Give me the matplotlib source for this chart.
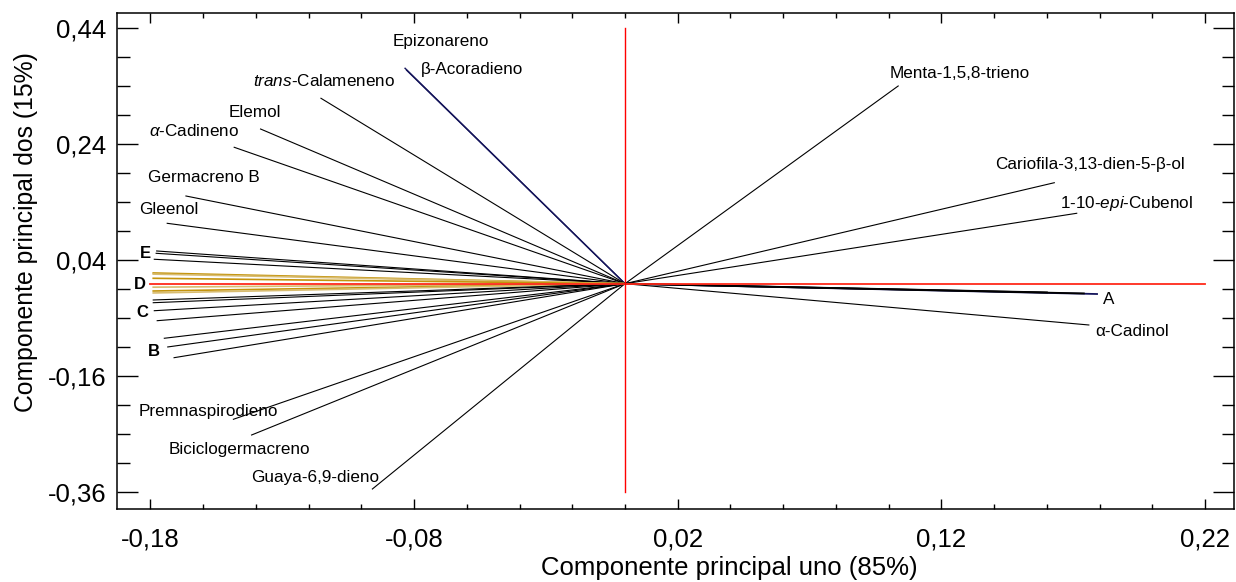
import matplotlib
matplotlib.use('Agg')
import numpy as np
import matplotlib.pyplot as plt
from matplotlib.ticker import FixedLocator, FixedFormatter

plt.rcParams['font.family'] = ['Liberation Sans', 'DejaVu Sans']
plt.rcParams['mathtext.fontset'] = 'custom'
plt.rcParams['mathtext.rm'] = 'Liberation Sans'
plt.rcParams['mathtext.it'] = 'Liberation Sans:italic'

# ---------------- data ----------------
# labelled compound vectors (loading on PC1, PC2)
compound_names = ['Epizonareno', 'β-Acoradieno', r'$\mathit{trans}$-Calameneno', 'Elemol',
                  r'$\mathit{α}$-Cadineno', 'Germacreno B', 'Gleenol',
                  'Menta-1,5,8-trieno', 'Cariofila-3,13-dien-5-β-ol', r'1-10-$\mathit{epi}$-Cubenol',
                  'α-Cadinol', 'Premnaspirodieno', 'Biciclogermacreno', 'Guaya-6,9-dieno']
compound_pc1 = [-0.0834, -0.0828, -0.1153, -0.1382, -0.1482, -0.1665, -0.1736,
                0.1036, 0.1628, 0.1713, 0.1759, -0.1485, -0.1416, -0.0958]
compound_pc2 = [0.3714, 0.3680, 0.3197, 0.2667, 0.2352, 0.1512, 0.1041,
                0.3409, 0.1741, 0.1214, -0.0712, -0.2338, -0.2609, -0.3540]
# label anchor positions (left edge, vertical centre) in data units
label_x = [-0.0880, -0.0774, -0.1411, -0.1503, -0.1805, -0.1809, -0.1841,
           0.1002, 0.1405, 0.1651, 0.1782, -0.1845, -0.1729, -0.1419]
label_y = [0.4172, 0.3697, 0.3500, 0.2948, 0.2638, 0.1828, 0.1283,
           0.3616, 0.2047, 0.1386, -0.0828, -0.2207, -0.2855, -0.3338]

# sample group vectors
group_A_pc1 = [0.1790, 0.1740, 0.1600]
group_A_pc2 = [-0.0178, -0.0168, -0.0150]
group_E_pc1 = [-0.1776, -0.1778, -0.1785]
group_E_pc2 = [0.0564, 0.0524, 0.0421]
group_D_pc1 = [-0.1789, -0.1789, -0.1789, -0.1789, -0.1789, -0.1789]
group_D_pc2 = [0.0185, 0.0165, 0.0093, -0.0060, -0.0126, -0.0160]
group_C_pc1 = [-0.1789, -0.1789, -0.1785, -0.1774]
group_C_pc2 = [-0.0281, -0.0328, -0.0466, -0.0638]
group_B_pc1 = [-0.1747, -0.1734, -0.1710]
group_B_pc2 = [-0.0941, -0.1091, -0.1276]

group_names = ['A', 'E', 'D', 'C', 'B']
group_label_x = [0.1813, -0.1818, -0.1841, -0.1830, -0.1786]
group_label_y = [-0.0281, 0.0529, -0.0022, -0.0505, -0.1169]

x_major = [-0.18, -0.08, 0.02, 0.12, 0.22]
x_major_labels = ['-0,18', '-0,08', '0,02', '0,12', '0,22']
y_major = [0.44, 0.24, 0.04, -0.16, -0.36]
y_major_labels = ['0,44', '0,24', '0,04', '-0,16', '-0,36']

# ---------------- figure ----------------
fig = plt.figure(figsize=(12.36, 5.82), dpi=100)
ax = fig.add_axes([116.5 / 1236, 1 - 509.3 / 582, (1234 - 116.5) / 1236, (509.3 - 13.3) / 582])
ax.set_xlim(-0.19283, 0.23094)
ax.set_ylim(-0.3890, 0.4662)

navy = '#14145a'
gold_dark = '#c4940c'
gold_light = '#d8bc70'

# compound vectors
for i, (x, y) in enumerate(zip(compound_pc1, compound_pc2)):
    col = navy if i < 2 else 'black'
    lw = 1.0 if i < 2 else 0.8
    ax.plot([0, x], [0, y], color=col, lw=lw, zorder=2)

for x, y in zip(group_E_pc1, group_E_pc2):
    ax.plot([0, x], [0, y], color='black', lw=0.8, zorder=2)
for j, (x, y) in enumerate(zip(group_D_pc1, group_D_pc2)):
    ax.plot([0, x], [0, y], color=gold_dark if j % 2 == 0 else gold_light, lw=1.2, zorder=2)
for x, y in zip(group_C_pc1, group_C_pc2):
    ax.plot([0, x], [0, y], color='black', lw=0.8, zorder=2)
for x, y in zip(group_B_pc1, group_B_pc2):
    ax.plot([0, x], [0, y], color='black', lw=0.8, zorder=2)
for j, (x, y) in enumerate(zip(group_A_pc1, group_A_pc2)):
    ax.plot([0, x], [0, y], color=navy if j == 0 else 'black', lw=1.3, zorder=2)

# red reference axes
ax.plot([-0.18, 0.22], [0, 0], color='#ff2a1a', lw=1.3, zorder=3)
ax.plot([0, 0], [-0.36, 0.44], color='#ff0000', lw=1.0, zorder=3)

# labels
for name, lx, ly in zip(compound_names, label_x, label_y):
    ax.text(lx, ly, name, fontsize=12.3, ha='left', va='center', zorder=4)
for k, (name, lx, ly) in enumerate(zip(group_names, group_label_x, group_label_y)):
    if name == 'A':
        ax.text(lx, ly, name, fontsize=12.3, ha='left', va='center', zorder=4)
    else:
        ax.text(lx, ly, name, fontsize=12, fontweight='bold', ha='center', va='center', zorder=4)

# ticks
ax.xaxis.set_major_locator(FixedLocator(x_major))
ax.xaxis.set_major_formatter(FixedFormatter(x_major_labels))
ax.yaxis.set_major_locator(FixedLocator(y_major))
ax.yaxis.set_major_formatter(FixedFormatter(y_major_labels))
ax.xaxis.set_minor_locator(FixedLocator(np.round(np.arange(-0.18, 0.2201, 0.02), 3)))
ax.yaxis.set_minor_locator(FixedLocator(np.round(np.arange(-0.36, 0.4401, 0.05), 3)))

ax.tick_params(axis='x', which='major', direction='in', length=7.2, width=1.0,
               top=True, bottom=True, labelsize=18.5, pad=13)
ax.tick_params(axis='x', which='minor', direction='in', length=3.8, width=1.0,
               top=True, bottom=True)
ax.tick_params(axis='y', which='major', direction='in', length=14.9, width=1.0,
               left=True, right=True, labelsize=18.5, pad=7.5)
ax.tick_params(axis='y', which='minor', direction='in', length=9.0, width=1.0,
               left=True, right=True)

for sp in ax.spines.values():
    sp.set_linewidth(1.1)

fig.text(729.5 / 1236, 1 - 568 / 582, 'Componente principal uno (85%)', fontsize=18.5,
         ha='center', va='center')
fig.text(26 / 1236, 1 - 231.7 / 582, 'Componente principal dos (15%)', fontsize=17.8,
         ha='center', va='center', rotation=90)

fig.savefig('out.png', dpi=100)
